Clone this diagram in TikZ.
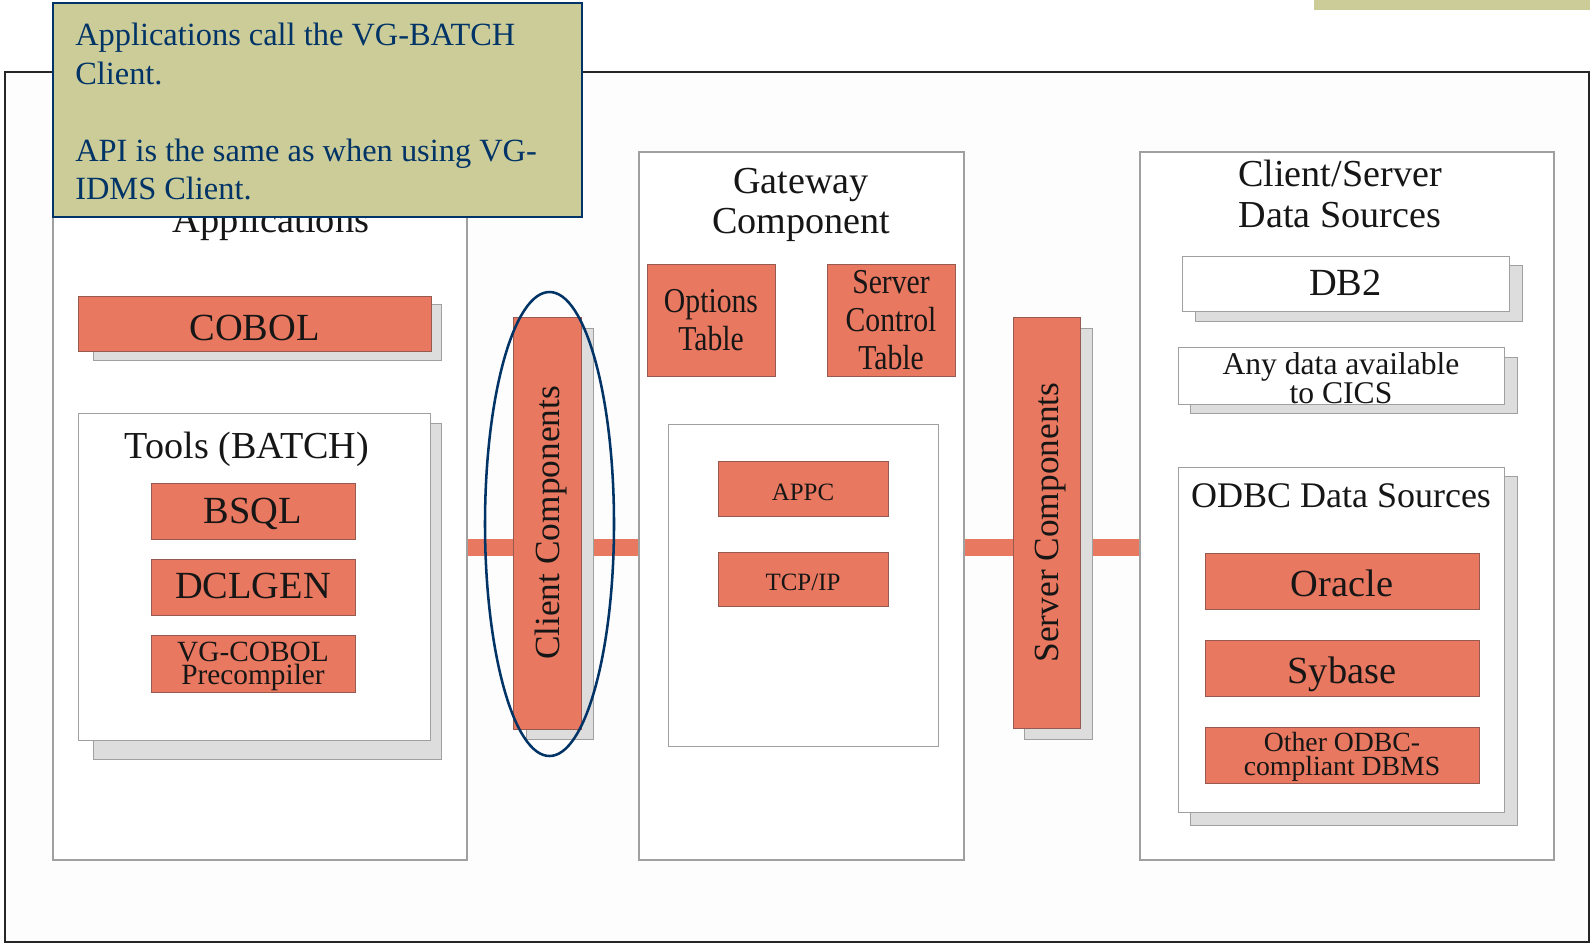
\documentclass[tikz,border=0pt]{standalone}
\usepackage{fontspec}
\setmainfont{Liberation Serif}
\newfontfamily\condfont[FakeStretch=0.85]{Liberation Serif}
\definecolor{orfill}{RGB}{232,120,96}
\definecolor{ordraw}{RGB}{150,90,80}
\definecolor{shfill}{RGB}{221,221,221}
\definecolor{grayline}{RGB}{160,160,160}
\definecolor{olivec}{RGB}{204,204,153}
\definecolor{navyc}{RGB}{0,51,102}
\definecolor{txt}{RGB}{22,22,22}
\definecolor{framefill}{RGB}{253,253,253}
\newcommand\fntMain{\fontsize{28.8pt}{30pt}\selectfont}
\newcommand\fntTitle{\fontsize{28.6pt}{30.5pt}\selectfont}
\newcommand\fntTools{\fontsize{28.6pt}{30pt}\selectfont}
\newcommand\fntOdbc{\fontsize{27pt}{30pt}\selectfont}
\newcommand\fntCall{\fontsize{24.3pt}{28.9pt}\selectfont}
\newcommand\fntVert{\fontsize{26.5pt}{30pt}\selectfont}
\newcommand\fntSmall{\fontsize{18.7pt}{22pt}\selectfont}
\newcommand\fntVgc{\fontsize{22pt}{17.3pt}\selectfont}
\newcommand\fntAny{\fontsize{23.7pt}{19.5pt}\selectfont}
\newcommand\fntOther{\fontsize{20.8pt}{18pt}\selectfont}
\newcommand\fntCond{\condfont\fontsize{26.2pt}{28.5pt}\selectfont}
% \bx{style}{name}{x1}{y1}{x2}{y2}{text}
\newcommand\bx[7]{\node[#1, minimum width={(#5-#3)*0.75pt}, minimum height={(#6-#4)*0.75pt}] (#2) at ({(#3+#5)/2},{(#4+#6)/2}) {#7};}
\begin{document}
\begin{tikzpicture}[x=0.75pt,y=-0.75pt,
  container/.style={draw=grayline, fill=white, line width=0.8pt, inner sep=0pt},
  obox/.style={draw=ordraw, fill=orfill, line width=0.75pt, inner sep=0pt, text=txt, align=center},
  wbox/.style={draw=grayline, fill=white, line width=0.75pt, inner sep=0pt, text=txt, align=center},
  shadowbox/.style={draw=grayline, fill=shfill, line width=0.75pt, inner sep=0pt},
  lbl/.style={text=txt, inner sep=0pt, align=center},
  bl/.style={text height={2*#1*0.75pt}, text depth=0pt},
  bus/.style={draw=orfill, line width=12.75pt},
  framebox/.style={draw=black!85, fill=framefill, line width=1.5pt, inner sep=0pt},
  callbox/.style={draw=navyc, fill=olivec, line width=2.2pt, inner sep=0pt},
]
\useasboundingbox (0,0) rectangle (1590,943);
% outer frame and top strip
\bx{framebox}{frame}{5}{72}{1589}{942}{}
\fill[olivec] (1314,0) rectangle (1590,10);

% bus bar behind the containers
\bx{container}{apps}{53}{152}{467}{860}{}
\bx{container}{cs}{1140}{152}{1554}{860}{}
\coordinate (busy) at (0,547.5);
\draw[bus] (apps.east |- busy) -- (cs.west |- busy);
\bx{container}{apps2}{53}{152}{467}{860}{}
\bx{container}{gw}{639}{152}{964}{860}{}
\bx{container}{cs2}{1140}{152}{1554}{860}{}

% Applications
\node[lbl, font=\fntMain, anchor=base] (appst) at (271,232) {Applications};
\bx{shadowbox}{cobolsh}{93}{304}{441}{360}{}
\bx{obox, font=\fntMain, bl=17}{cobol}{78}{296}{431}{351}{COBOL}
\bx{shadowbox}{toolssh}{93}{423}{441}{759}{}
\bx{wbox}{tools}{78}{413}{430}{740}{}
\node[lbl, font=\fntTools, anchor=base] (toolst) at (247,458) {Tools (BATCH)};
\bx{obox, font=\fntMain, bl=12.5}{bsql}{151}{483}{355}{539}{BSQL}
\bx{obox, font=\fntMain, bl=11}{dclgen}{151}{559}{355}{615}{DCLGEN}
\bx{obox, font=\fntVgc}{vgc}{151}{635}{355}{692}{\rule{0pt}{18.3pt}VG-COBOL\\Precompiler}

% Client components
\bx{shadowbox}{ccsh}{526}{328}{593}{739}{}
\bx{obox}{cc}{513}{317}{581}{729}{}
\node[lbl, font=\fntVert, rotate=90, text depth=0pt] (cct) at (cc.center) {Client Components};
\draw[navyc, line width=1.9pt] (549.5,524) ellipse [x radius=64.5, y radius=232];

% Gateway
\node[lbl, font=\fntTitle] (gwt) at (801,205) {Gateway\\Component};
\bx{obox, font=\fntCond}{opt}{647}{264}{775}{376}{Options\\Table}
\bx{obox, font=\fntCond}{sct}{827}{264}{955}{376}{Server\\Control\\Table}
\bx{wbox}{proto}{668}{424}{938}{746}{}
\bx{obox, font=\fntSmall, bl=12}{appc}{718}{461}{888}{516}{APPC}
\bx{obox, font=\fntSmall, bl=11.5}{tcpip}{718}{552}{888}{606}{TCP/IP}

% Server components
\bx{shadowbox}{scsh}{1024}{328}{1092}{739}{}
\bx{obox}{sc}{1013}{317}{1080}{728}{}
\node[lbl, font=\fntVert, rotate=90, text depth=0pt] (sctx) at (sc.center) {Server Components};

% Client/Server data sources
\node[lbl, font=\fntTitle] (cst) at (1340,194) {Client/Server\\Data Sources};
\bx{shadowbox}{db2sh}{1195}{265}{1522}{321}{}
\bx{wbox, font=\fntMain, bl=11.5}{db2}{1182}{256}{1509}{311}{DB2}
\bx{shadowbox}{anysh}{1190}{357}{1517}{413}{}
\bx{wbox, font=\fntAny}{any}{1178}{348}{1504}{403}{\rule{0pt}{20.7pt}Any data available\\to CICS}
\bx{shadowbox}{odbcsh}{1190}{476}{1517}{825}{}
\bx{wbox}{odbc}{1178}{467}{1504}{812}{}
\node[lbl, font=\fntOdbc, anchor=base] (odbct) at (1341,507) {ODBC Data Sources};
\bx{obox, font=\fntMain, bl=15.5}{oracle}{1205}{553}{1479}{609}{Oracle}
\bx{obox, font=\fntMain, bl=15}{sybase}{1205}{640}{1479}{696}{Sybase}
\bx{obox, font=\fntOther}{other}{1205}{727}{1479}{783}{\rule{0pt}{17.2pt}Other ODBC-\\compliant DBMS}

% callout
\bx{callbox}{cbox}{53}{3}{582}{217}{}
\node[text=navyc, font=\fntCall, align=left, inner sep=0pt, anchor=north west] (calltext) at (75,23)
  {Applications call the VG-BATCH\\Client.\\[28.9pt]API is the same as when using VG-\\IDMS Client.};
\end{tikzpicture}
\end{document}
